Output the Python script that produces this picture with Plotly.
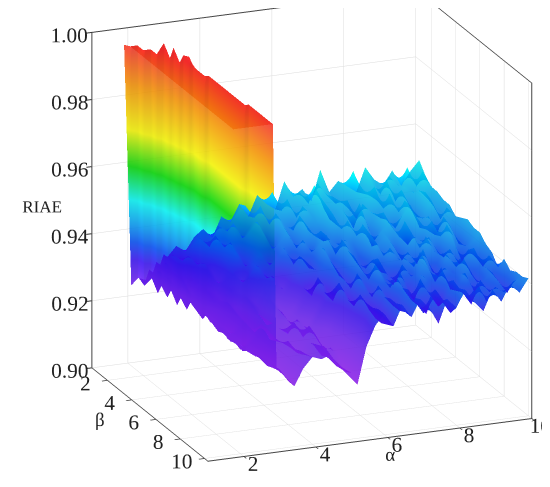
import numpy as np
import plotly.graph_objects as go

# grid of the surface (alpha columns, beta rows)
alpha = [1.8, 2.0, 2.2, 2.4, 2.5, 2.6, 2.7, 2.8, 2.9,
         3.0, 3.25, 3.5, 3.75, 4.0, 4.25, 4.5, 4.75, 5.0, 5.25, 5.5, 5.75,
         6.0, 6.25, 6.5, 6.75, 7.0, 7.25, 7.5, 7.75, 8.0, 8.25, 8.5, 8.75,
         9.0, 9.25, 9.5, 9.75, 10.0]
beta = [1, 1.5, 2, 2.5, 3, 3.5, 4, 4.5, 5, 5.5, 6, 6.5, 7, 7.5, 8, 8.5, 9, 9.5, 10]

# RIAE, in thousandths, one row per beta value
riae_b1 = [996, 924, 926, 925, 928, 927, 930, 929, 932,
           931, 934, 932, 936, 938, 935, 941, 939, 944, 940, 946, 943, 941, 949, 944,
           946, 942, 951, 944, 947, 945, 943, 950, 946, 944, 948, 943, 947, 950]
riae_b1_5 = [997, 997, 925, 927, 926, 929, 928, 931, 930,
             933, 931, 935, 937, 934, 940, 938, 943, 945, 941, 944, 948, 942, 945, 947,
             943, 949, 945, 942, 946, 951, 944, 947, 943, 948, 945, 950, 944, 947]
riae_b2 = [997, 997, 997, 924, 926, 925, 928, 927, 930,
           932, 934, 931, 936, 939, 935, 942, 937, 941, 946, 940, 944, 947, 941, 945,
           950, 943, 946, 944, 941, 948, 945, 943, 949, 942, 946, 944, 950, 945]
riae_b2_5 = [997, 997, 997, 1000, 924, 926, 925, 927, 929,
             928, 931, 933, 930, 935, 938, 934, 940, 943, 938, 945, 941, 939, 946, 943,
             948, 941, 944, 946, 940, 945, 949, 942, 944, 947, 941, 946, 943, 945]
riae_b3 = [997, 997, 997, 997, 1000, 923, 925, 924, 927,
           926, 929, 931, 928, 933, 936, 932, 937, 941, 936, 943, 939, 945, 940, 942,
           947, 941, 944, 939, 946, 943, 941, 948, 942, 945, 940, 947, 942, 944]
riae_b3_5 = [997, 997, 997, 997, 997, 999, 923, 925, 924,
             926, 928, 927, 930, 932, 929, 934, 937, 933, 939, 942, 937, 944, 940, 938,
             946, 941, 943, 948, 940, 944, 942, 939, 947, 943, 941, 946, 940, 944]
riae_b4 = [997, 997, 997, 997, 997, 1000, 997, 924, 923,
           925, 927, 926, 929, 928, 932, 935, 931, 936, 939, 934, 941, 937, 943, 940,
           938, 945, 940, 942, 938, 946, 941, 944, 947, 940, 943, 938, 945, 942]
riae_b4_5 = [997, 997, 997, 997, 997, 997, 997, 923, 924,
             922, 925, 927, 924, 928, 926, 930, 933, 929, 935, 938, 934, 940, 943, 937,
             941, 939, 945, 938, 942, 944, 940, 937, 945, 941, 939, 944, 940, 943]
riae_b5 = [997, 997, 997, 997, 997, 997, 997, 997, 923,
           922, 924, 926, 923, 927, 925, 928, 926, 930, 934, 938, 935, 941, 936, 943,
           939, 937, 944, 940, 942, 938, 946, 941, 939, 945, 940, 943, 937, 944]
riae_b5_5 = [997, 997, 997, 997, 997, 997, 997, 997, 922,
             923, 921, 925, 923, 926, 922, 927, 924, 926, 932, 929, 936, 939, 934, 941,
             937, 935, 943, 938, 941, 936, 944, 939, 942, 937, 945, 940, 938, 943]
riae_b6 = [997, 997, 997, 997, 997, 997, 997, 997, 923,
           921, 923, 925, 922, 926, 924, 927, 923, 927, 931, 936, 932, 938, 934, 941,
           936, 939, 935, 942, 938, 940, 936, 944, 939, 937, 942, 935, 940, 943]
riae_b6_5 = [997, 997, 997, 997, 997, 997, 997, 997, 922,
             922, 920, 923, 926, 921, 924, 922, 926, 923, 928, 933, 930, 937, 933, 939,
             935, 941, 936, 933, 940, 937, 942, 935, 939, 941, 936, 940, 937, 941]
riae_b7 = [997, 997, 997, 997, 997, 997, 997, 997, 923,
           921, 922, 924, 926, 922, 925, 927, 922, 925, 929, 934, 937, 932, 939, 935,
           941, 937, 934, 940, 936, 943, 938, 935, 941, 937, 939, 942, 936, 940]
riae_b7_5 = [997, 997, 997, 997, 997, 997, 997, 997, 922,
             922, 920, 922, 925, 923, 921, 925, 927, 922, 924, 930, 934, 931, 937, 933,
             939, 935, 940, 934, 938, 941, 935, 939, 937, 942, 936, 938, 941, 937]
riae_b8 = [997, 997, 997, 997, 997, 997, 997, 997, 997,
           923, 921, 920, 923, 925, 921, 924, 926, 921, 924, 928, 933, 936, 931, 938,
           934, 940, 935, 932, 939, 936, 941, 934, 938, 940, 935, 939, 936, 941]
riae_b8_5 = [997, 997, 997, 997, 997, 997, 997, 997, 997,
             923, 920, 919, 922, 924, 922, 925, 921, 923, 920, 927, 932, 935, 930, 936,
             933, 938, 934, 940, 935, 931, 938, 935, 940, 934, 937, 939, 935, 939]
riae_b9 = [997, 997, 997, 997, 997, 997, 997, 997, 997,
           923, 921, 919, 922, 925, 923, 926, 922, 919, 917, 926, 931, 935, 930, 937,
           933, 939, 934, 931, 938, 934, 940, 936, 932, 939, 935, 938, 934, 940]
riae_b9_5 = [997, 997, 997, 997, 997, 997, 997, 997, 997,
             924, 922, 918, 921, 925, 924, 927, 923, 920, 918, 925, 932, 936, 931, 937,
             934, 938, 933, 939, 936, 932, 939, 935, 940, 934, 938, 936, 939, 940]
riae_b10 = [997, 997, 997, 997, 997, 997, 997, 997, 997,
            924, 921, 918, 923, 926, 925, 926, 922, 919, 916, 927, 933, 936, 932, 938,
            934, 939, 936, 931, 938, 935, 940, 936, 933, 939, 935, 940, 937, 941]

z_ticks = [0.90, 0.92, 0.94, 0.96, 0.98, 1.00]
xy_ticks = [2, 4, 6, 8, 10]

rows = [riae_b1, riae_b1_5, riae_b2, riae_b2_5, riae_b3, riae_b3_5, riae_b4,
        riae_b4_5, riae_b5, riae_b5_5, riae_b6, riae_b6_5, riae_b7, riae_b7_5,
        riae_b8, riae_b8_5, riae_b9, riae_b9_5, riae_b10]
z = np.array(rows) / 1000.0

# rainbow like Origin's
rainbow = [
    [0.0, "#a020ff"],
    [0.12, "#7020ff"],
    [0.2, "#3a10ff"],
    [0.265, "#0050ff"],
    [0.29, "#0070ff"],
    [0.33, "#00a0ff"],
    [0.42, "#00ffff"],
    [0.54, "#00e000"],
    [0.675, "#ffff00"],
    [0.84, "#ff9900"],
    [1.0, "#ff2a2a"],
]

fig = go.Figure()
fig.add_trace(go.Surface(
    x=alpha, y=beta, z=z,
    colorscale=rainbow, cmin=0.915, cmax=0.998,
    showscale=False, opacity=0.87,
    lighting=dict(ambient=0.9, diffuse=0.35, specular=0.0, roughness=0.9, fresnel=0.05),
))

font = "Liberation Serif"
axis_common = dict(
    showbackground=False,
    gridcolor="#dcdcdc", gridwidth=1,
    showline=True, linecolor="#444444", linewidth=2, mirror=True,
    ticks="outside", tickcolor="#333333", ticklen=6, tickwidth=2, tickangle=0,
    tickfont=dict(family=font, size=16, color="#222222"),
    zeroline=False, showspikes=False,
)

# view direction and shift of the box inside the window
view = np.array([-0.355, -0.877, 0.326])
center = np.array([-0.123, 0.012, -0.101])
eye = center + 2.0 * view

fig.update_layout(
    width=550, height=487,
    margin=dict(l=0, r=0, t=0, b=0),
    paper_bgcolor="white",
    scene=dict(
        xaxis=dict(title=dict(text="α", font=dict(family=font, size=19, color="#222222")),
                   range=[1, 10], tickvals=xy_ticks, **axis_common),
        yaxis=dict(title=dict(text="β", font=dict(family=font, size=19, color="#222222")),
                   autorange="reversed", tickvals=xy_ticks, **axis_common),
        zaxis=dict(title=dict(text="RIAE", font=dict(family=font, size=17, color="#222222")),
                   range=[0.9, 1.0], tickvals=z_ticks, tickformat=".2f", **axis_common),
        aspectmode="manual",
        aspectratio=dict(x=1.435, y=1.27, z=1.457),
        camera=dict(eye=dict(x=eye[0], y=eye[1], z=eye[2]),
                    up=dict(x=0, y=0, z=1),
                    center=dict(x=center[0], y=center[1], z=center[2]),
                    projection=dict(type="orthographic")),
    ),
)

fig.write_html("out.html")
